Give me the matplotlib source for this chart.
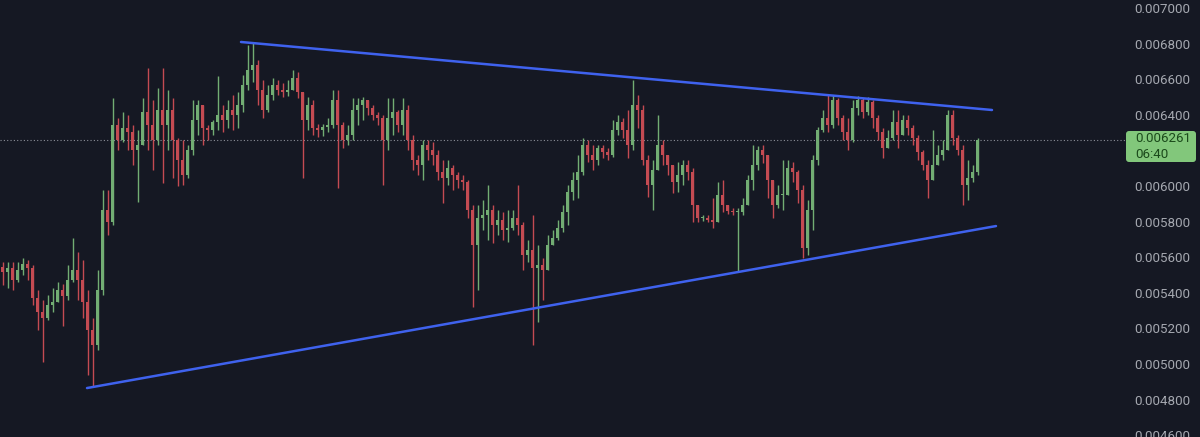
import matplotlib
matplotlib.use("Agg")
import matplotlib.pyplot as plt
from matplotlib.patches import FancyBboxPatch
from matplotlib.transforms import IdentityTransform
import numpy as np

# ---------------- data (prices in units of 1e-6) ----------------
UNIT = 1e-6
open_first = 5545

closes = [5517, 5539, 5472, 5528, 5562, 5539, 5371, 5292, 5259, 5332,
          5348, 5416, 5382, 5472, 5528, 5472, 5348, 5191, 5107, 5416,
          5865, 5798, 6343, 6258, 6326, 6303, 6202, 6230, 6416, 6343,
          6258, 6427, 6343, 6427, 6258, 6146, 6062, 6202, 6371, 6455,
          6326, 6315, 6360, 6399, 6371, 6427, 6399, 6455, 6567, 6652,
          6680, 6539, 6427, 6511, 6567, 6539, 6528, 6539, 6607, 6528,
          6371, 6455, 6326, 6315, 6331, 6343, 6483, 6343, 6258, 6287,
          6427, 6455, 6483, 6438, 6399, 6382, 6258, 6382, 6416, 6343,
          6427, 6258, 6146, 6118, 6230, 6202, 6174, 6079, 6045, 6101,
          6062, 6034, 6023, 5865, 5669, 5820, 5837, 5865, 5781, 5809,
          5753, 5764, 5820, 5781, 5612, 5641, 5539, 5556, 5528, 5669,
          5708, 5764, 5854, 5966, 6034, 6079, 6230, 6174, 6146, 6214,
          6191, 6174, 6315, 6360, 6315, 6230, 6455, 6427, 6146, 6006,
          6090, 6230, 6174, 6118, 6023, 6062, 6118, 6079, 5893, 5820,
          5820, 5809, 5798, 5950, 5893, 5860, 5854, 5854, 5893, 6034,
          6118, 6202, 6174, 6034, 5893, 5950, 5950, 6101, 6079, 5978,
          5652, 5865, 6146, 6315, 6382, 6343, 6483, 6382, 6303, 6258,
          6438, 6483, 6416, 6472, 6382, 6303, 6214, 6270, 6360, 6287,
          6371, 6326, 6270, 6191, 6118, 6034, 6118, 6174, 6202, 6399,
          6270, 6202, 6006, 6045, 6079, 6261]

highs = [5573, 5573, 5573, 5573, 5596, 5584, 5556, 5416, 5360, 5388,
         5427, 5461, 5450, 5556, 5708, 5629, 5584, 5416, 5259, 5528,
         5978, 5978, 6494, 6382, 6416, 6399, 6343, 6315, 6494, 6663,
         6483, 6551, 6663, 6539, 6494, 6270, 6258, 6230, 6483, 6483,
         6455, 6343, 6371, 6618, 6455, 6483, 6511, 6528, 6624, 6792,
         6803, 6708, 6596, 6567, 6607, 6596, 6579, 6596, 6652, 6640,
         6511, 6500, 6483, 6348, 6348, 6382, 6539, 6539, 6360, 6343,
         6494, 6494, 6500, 6483, 6455, 6416, 6399, 6494, 6494, 6427,
         6494, 6455, 6287, 6174, 6258, 6258, 6247, 6202, 6146, 6146,
         6118, 6079, 6062, 6034, 5893, 5893, 5921, 6006, 5893, 5865,
         5854, 5865, 5865, 6006, 5798, 5697, 5837, 5669, 5596, 5725,
         5753, 5809, 5893, 6006, 6079, 6174, 6270, 6258, 6230, 6230,
         6230, 6214, 6371, 6399, 6382, 6427, 6596, 6511, 6455, 6174,
         6146, 6399, 6258, 6174, 6118, 6135, 6146, 6146, 6101, 5854,
         5837, 5837, 5933, 6023, 6034, 5877, 5877, 5877, 5933, 6062,
         6230, 6225, 6230, 6174, 6034, 6006, 6146, 6146, 6135, 6090,
         6006, 5921, 6174, 6331, 6427, 6511, 6511, 6494, 6399, 6382,
         6483, 6506, 6494, 6500, 6483, 6399, 6326, 6315, 6427, 6427,
         6399, 6399, 6343, 6287, 6202, 6146, 6315, 6230, 6258, 6427,
         6427, 6287, 6230, 6146, 6118, 6270]

lows = [5444, 5427, 5416, 5461, 5500, 5472, 5332, 5191, 5011, 5247,
        5292, 5360, 5214, 5360, 5461, 5360, 5259, 4938, 4877, 5079,
        5388, 5725, 5781, 6202, 6247, 6202, 6118, 5910, 6230, 6202,
        6090, 6230, 6017, 6202, 6045, 6000, 6006, 6045, 6174, 6287,
        6230, 6258, 6287, 6315, 6303, 6326, 6315, 6326, 6416, 6539,
        6584, 6455, 6382, 6416, 6483, 6511, 6500, 6506, 6539, 6494,
        6045, 6315, 6287, 6275, 6281, 6303, 6326, 5989, 6214, 6230,
        6258, 6343, 6371, 6399, 6371, 6343, 6006, 6202, 6287, 6303,
        6287, 6202, 6090, 6062, 6034, 6146, 6118, 6034, 5905, 6006,
        5978, 5989, 5978, 5820, 5320, 5416, 5753, 5697, 5680, 5725,
        5697, 5686, 5753, 5725, 5528, 5573, 5107, 5236, 5360, 5528,
        5669, 5697, 5742, 5781, 5921, 5933, 6062, 6135, 6090, 6118,
        6157, 6146, 6163, 6287, 6270, 6157, 6202, 6326, 6118, 5938,
        5865, 6090, 6118, 6062, 5961, 5966, 6006, 6034, 5798, 5798,
        5803, 5798, 5764, 5921, 5854, 5843, 5837, 5517, 5837, 5893,
        5978, 6090, 6129, 5933, 5820, 5877, 5865, 5950, 6023, 5905,
        5596, 5612, 5753, 6118, 6303, 6303, 6326, 6343, 6258, 6202,
        6247, 6399, 6382, 6399, 6326, 6258, 6157, 6214, 6258, 6214,
        6315, 6287, 6230, 6146, 6090, 5933, 6034, 6135, 6146, 6214,
        6230, 6174, 5893, 5921, 6023, 6062]

countdown = "06:40"
price_ticks = [0.0046, 0.0048, 0.0050, 0.0052, 0.0054, 0.0056, 0.0058,
               0.0060, 0.0062, 0.0064, 0.0066, 0.0068, 0.0070]

# trendlines (candle index, price)
upper_trend_idx = [47.7, 197.9]
upper_trend_price = [0.006809, 0.006427]
lower_trend_idx = [16.9, 198.7]
lower_trend_price = [0.004865, 0.005775]

# ---------------- styling ----------------
BG = "#151823"
UP = "#72ad73"
DOWN = "#c44b52"
LINE = "#3f62ee"
LABEL = "#a5a8b0"

c = np.array(closes) * UNIT
o = np.array([open_first] + closes[:-1]) * UNIT
h = np.maximum(np.array(highs) * UNIT, np.maximum(o, c))
l = np.minimum(np.array(lows) * UNIT, np.minimum(o, c))
x = np.arange(len(c))
up = c >= o
cols = np.where(up, UP, DOWN)

fig = plt.figure(figsize=(12, 4.37), dpi=100, facecolor=BG)
ax = fig.add_axes([0, 0, 1125 / 1200, 1])
ax.set_facecolor(BG)
ax.set_xlim(-0.5, 224.5)
ax.set_ylim(0.0045900, 0.0070449)

ax.vlines(x, l, h, colors=cols, linewidth=1.0, zorder=2)
bottoms = np.minimum(o, c)
heights = np.maximum(np.abs(c - o), 0.0000035)
ax.bar(x, heights, bottom=bottoms, width=0.7, color=cols, linewidth=0, zorder=3)

ax.plot(upper_trend_idx, upper_trend_price, color=LINE, lw=1.8,
        solid_capstyle="round", zorder=4)
ax.plot(lower_trend_idx, lower_trend_price, color=LINE, lw=1.8,
        solid_capstyle="round", zorder=4)

current = c[-1]
ax.axhline(current, color="#8d9099", linestyle=(0, (1, 2)), linewidth=0.8, zorder=1)

for s in ax.spines.values():
    s.set_visible(False)
ax.set_xticks([])
ax.yaxis.tick_right()
ax.set_yticks(price_ticks)
# the label under the current-price box is hidden, as in the reference
tick_labels = ["" if abs(t - 0.0062) < 1e-9 else f"{t:.6f}" for t in price_ticks]
ax.set_yticklabels(tick_labels, family="Roboto")
ax.tick_params(axis="y", length=0, pad=7, labelcolor=LABEL, labelsize=9.6)

# current price box
box = FancyBboxPatch((1126, 437 - 162), 70, 31,
                     boxstyle="round,pad=0,rounding_size=3",
                     transform=IdentityTransform(), facecolor="#82c77b",
                     edgecolor="none", zorder=5)
fig.add_artist(box)
fig.text(1135 / 1200, (437 - 139) / 437, f"{current:.6f}", va="center", ha="left",
         color="#1b4a1b", fontsize=9.6, family="Roboto", zorder=6)
fig.text(1135 / 1200, (437 - 154) / 437, countdown, va="center", ha="left",
         color="#1b4a1b", fontsize=9.6, family="Roboto", zorder=6)

fig.savefig("out.png", dpi=100, facecolor=BG)
